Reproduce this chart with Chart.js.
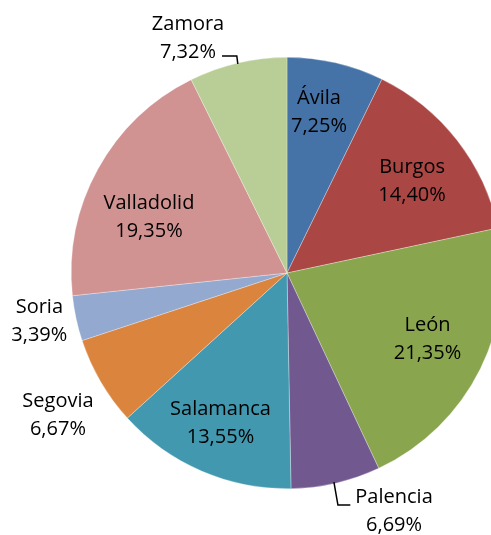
<!DOCTYPE html>
<html>
<head>
<meta charset="utf-8">
<script src="https://cdn.jsdelivr.net/npm/chart.js@4"></script>
<style>
  html, body { margin: 0; padding: 0; background: #fff; overflow: hidden; }
  #wrap { position: absolute; left: 0; top: 0; width: 574px; height: 535px; }
</style>
</head>
<body>
<div id="wrap"><canvas id="provinciasChart" width="574" height="535"></canvas></div>
<script>
// Distribución por provincia (%)
const provincias = ['Ávila', 'Burgos', 'León', 'Palencia', 'Salamanca', 'Segovia', 'Soria', 'Valladolid', 'Zamora'];
const porcentajes = [7.25, 14.40, 21.35, 6.69, 13.55, 6.67, 3.39, 19.35, 7.32];
const colores = ['#4572A7', '#AA4643', '#89A54E', '#71588F', '#4198AF', '#DB843D', '#93A9CF', '#D19392', '#B9CD96'];

// posición de las etiquetas: [fracción del radio, desvío angular en grados]
const posEtiquetas = [[0.76, -1.8], [0.72, 1.6], [0.72, -1.2], [1.21, -11.1], [0.76, 0.6], [1.25, -1.6], [1.17, 1.0], [0.69, -6.8], [1.18, -9.7]];
const lineaGuia = { 3: 'abajo', 8: 'arriba' };

const etiquetas = {
    id: 'etiquetas',
    afterDatasetsDraw(chart) {
        const ctx = chart.ctx;
        const arcs = chart.getDatasetMeta(0).data;
        ctx.save();
        ctx.font = '20px "Open Sans"';
        ctx.fillStyle = '#000';
        ctx.textAlign = 'center';
        ctx.textBaseline = 'middle';
        ctx.strokeStyle = '#000';
        ctx.lineWidth = 1.5;
        arcs.forEach((arc, i) => {
            const mid = (arc.startAngle + arc.endAngle) / 2;
            const [f, off] = posEtiquetas[i];
            const a = mid + off * Math.PI / 180;
            const x = arc.x + Math.cos(a) * arc.outerRadius * f;
            const y = arc.y + Math.sin(a) * arc.outerRadius * f;
            const texto = [provincias[i], porcentajes[i].toFixed(2).replace('.', ',') + '%'];
            ctx.fillText(texto[0], x, y - 14);
            ctx.fillText(texto[1], x, y + 14);

            const ex = arc.x + Math.cos(mid) * arc.outerRadius;
            const ey = arc.y + Math.sin(mid) * arc.outerRadius;
            if (lineaGuia[i] === 'arriba') {
                const w = ctx.measureText(texto[1]).width;
                ctx.beginPath();
                ctx.moveTo(ex, ey + 1);
                ctx.lineTo(ex - 1, ey - 7);
                ctx.lineTo(x + w / 2 + 6, ey - 7);
                ctx.stroke();
            } else if (lineaGuia[i] === 'abajo') {
                const w = ctx.measureText(texto[0]).width;
                ctx.beginPath();
                ctx.moveTo(ex - 2, ey - 1);
                ctx.lineTo(ex + 2, y - 6);
                ctx.lineTo(x - w / 2 - 5, y - 6);
                ctx.stroke();
            }
        });
        ctx.restore();
    }
};

const ctx1 = document.getElementById('provinciasChart').getContext('2d');
new Chart(ctx1, {
    type: 'pie',
    data: {
        labels: provincias,
        datasets: [{
            data: porcentajes,
            backgroundColor: colores,
            borderColor: 'rgba(255,255,255,0.6)',
            borderWidth: 0.5
        }]
    },
    options: {
        responsive: false,
        animation: false,
        layout: { padding: { top: 57, bottom: 46, left: 0, right: 0 } },
        plugins: {
            legend: { display: false },
            tooltip: { enabled: false }
        }
    },
    plugins: [etiquetas]
});
</script>
</body>
</html>
